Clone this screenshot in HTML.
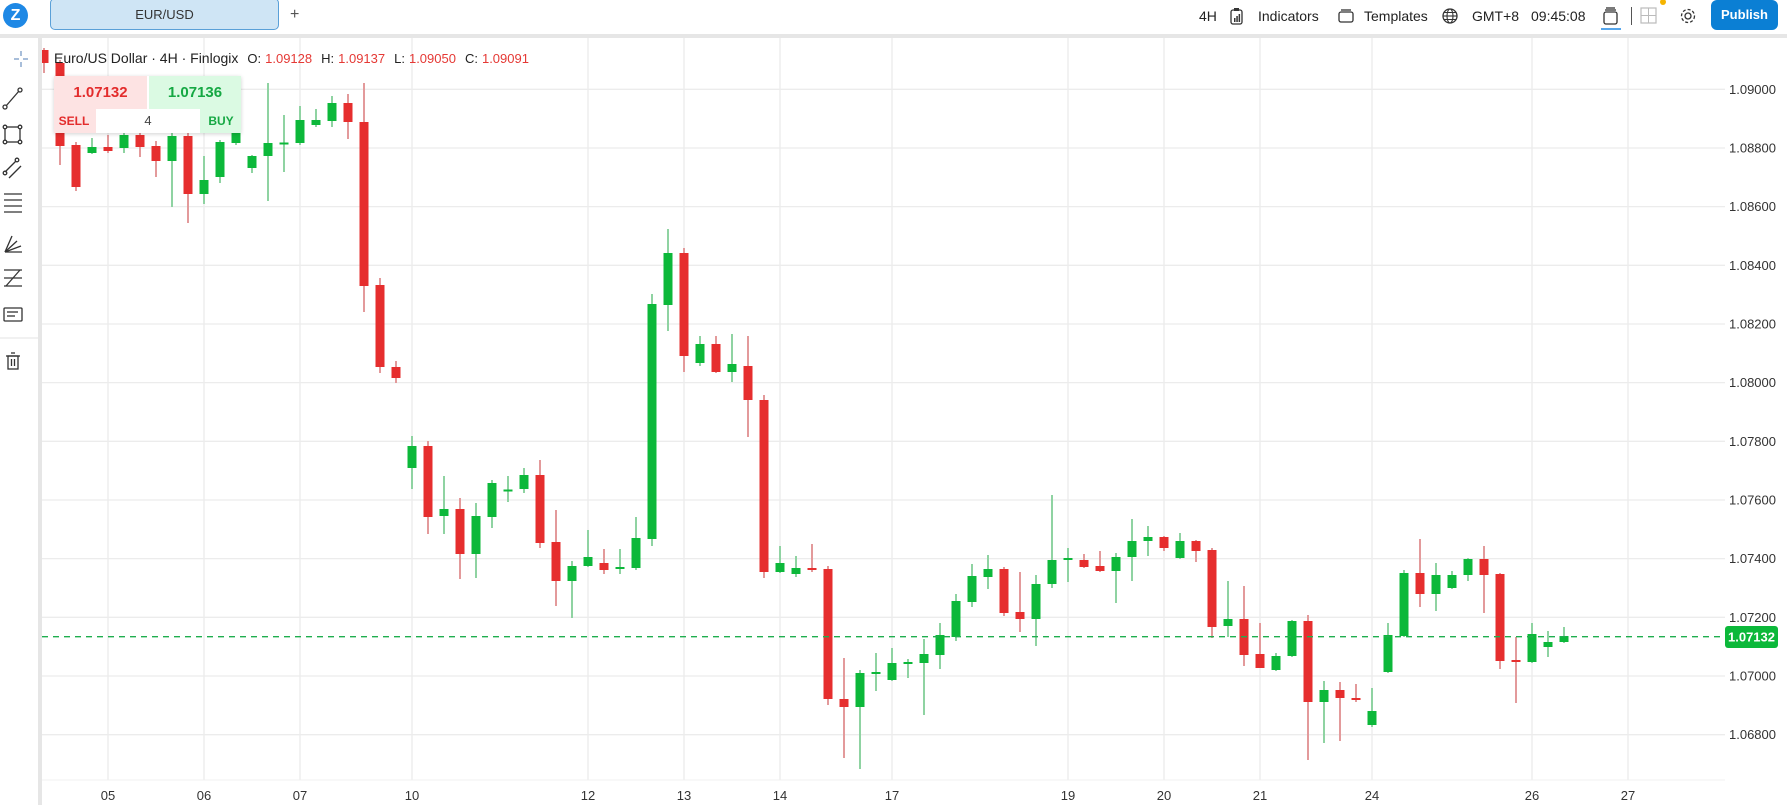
<!DOCTYPE html>
<html><head><meta charset="utf-8">
<style>
*{margin:0;padding:0;box-sizing:border-box}
body{width:1787px;height:805px;overflow:hidden;background:#fff;font-family:"Liberation Sans",Arial,sans-serif;color:#222;position:relative}
.abs{position:absolute}
#top{left:0;top:0;width:1787px;height:34px;background:#fff}
#sep{left:0;top:34px;width:1787px;height:4px;background:#e6e6e6}
#lsep{left:38px;top:34px;width:4px;height:771px;background:#e6e6e6}
.tb{font-size:14px;color:#222;top:8px}
#legend{left:54px;top:50px;font-size:14px;color:#222;white-space:nowrap}
#legend .v{color:#e53935;font-size:13px}
#legend .k{font-size:13px;margin:0 4px 0 9px}
#widget{left:54px;top:76px;width:187px;height:57px;box-shadow:0 1px 4px rgba(0,0,0,.18);background:#fff}
</style></head><body>
<svg class="abs" style="left:0;top:0" width="1787" height="805" id="chart"></svg>

<div id="top" class="abs"></div>
<div id="sep" class="abs"></div>
<div id="lsep" class="abs"></div>
<!-- logo -->
<div class="abs" style="left:3px;top:3px;width:25px;height:25px;border-radius:50%;background:#1e88e5;color:#fff;font-weight:bold;font-size:16px;text-align:center;line-height:25px">Z</div>
<div class="abs" style="left:50px;top:-2px;width:229px;height:32px;background:#cfe5f5;border:1px solid #5aa0d8;border-radius:5px;font-size:13px;text-align:center;line-height:32px;color:#333">EUR/USD</div>
<div class="abs" style="left:290px;top:6px;font-size:16px;color:#555">+</div>
<div class="abs tb" style="left:1199px">4H</div>
<svg class="abs" style="left:1230px;top:7px" width="14" height="18"><rect x="1" y="3" width="11" height="14" rx="2" fill="none" stroke="#333" stroke-width="1.3"/><rect x="4" y="1" width="5" height="3" fill="#333"/><rect x="4" y="11" width="1.5" height="4" fill="#333"/><rect x="6.3" y="9" width="1.5" height="6" fill="#333"/><rect x="8.6" y="7" width="1.5" height="8" fill="#333"/></svg>
<div class="abs tb" style="left:1258px">Indicators</div>
<svg class="abs" style="left:1338px;top:9px" width="16" height="14"><rect x="1" y="3" width="14" height="10" rx="2" fill="none" stroke="#333" stroke-width="1.3"/><line x1="3" y1="1" x2="13" y2="1" stroke="#333" stroke-width="1.3"/></svg>
<div class="abs tb" style="left:1364px">Templates</div>
<svg class="abs" style="left:1442px;top:8px" width="16" height="16"><circle cx="8" cy="8" r="7" fill="none" stroke="#333" stroke-width="1.3"/><ellipse cx="8" cy="8" rx="3" ry="7" fill="none" stroke="#333" stroke-width="1.1"/><line x1="1" y1="8" x2="15" y2="8" stroke="#333" stroke-width="1.1"/><line x1="2" y1="4.5" x2="14" y2="4.5" stroke="#333" stroke-width="1"/><line x1="2" y1="11.5" x2="14" y2="11.5" stroke="#333" stroke-width="1"/></svg>
<div class="abs tb" style="left:1472px">GMT+8</div>
<div class="abs tb" style="left:1531px">09:45:08</div>
<svg class="abs" style="left:1600px;top:5px" width="22" height="25"><rect x="4" y="7" width="13" height="12" rx="2" fill="none" stroke="#333" stroke-width="1.3"/><line x1="6" y1="3" x2="15" y2="3" stroke="#333" stroke-width="1.3"/><line x1="5" y1="5" x2="16" y2="5" stroke="#333" stroke-width="1.3"/><line x1="1" y1="24" x2="21" y2="24" stroke="#1e88e5" stroke-width="1.5"/></svg>
<div class="abs" style="left:1631px;top:7px;width:1px;height:18px;background:#555"></div>
<svg class="abs" style="left:1639px;top:0px" width="30" height="26"><rect x="2" y="8" width="15" height="15" fill="none" stroke="#bbb" stroke-width="1.2"/><line x1="9.5" y1="8" x2="9.5" y2="23" stroke="#bbb"/><line x1="2" y1="15.5" x2="17" y2="15.5" stroke="#bbb"/><circle cx="24" cy="2" r="3" fill="#f5b400"/></svg>
<svg class="abs" style="left:1679px;top:7px" width="18" height="18"><circle cx="9" cy="9" r="3" fill="none" stroke="#333" stroke-width="1.3"/><circle cx="9" cy="9" r="6.5" fill="none" stroke="#333" stroke-width="1.3" stroke-dasharray="3 2"/></svg>
<div class="abs" style="left:1711px;top:0px;width:67px;height:30px;background:#0b7fd4;border-radius:6px;color:#fff;font-size:13px;font-weight:bold;text-align:center;line-height:30px">Publish</div>

<!-- left toolbar icons -->
<svg class="abs" style="left:0;top:40px" width="38" height="340">
<g stroke="#333" stroke-width="1.3" fill="none">
<g stroke="#7a9cc6"><line x1="14" y1="19" x2="19" y2="19"/><line x1="23" y1="19" x2="28" y2="19"/><line x1="21" y1="11" x2="21" y2="16"/><line x1="21" y1="22" x2="21" y2="27"/></g>
<line x1="6" y1="66" x2="19" y2="51"/><circle cx="5" cy="67" r="2"/><circle cx="20" cy="50" r="2"/>
<rect x="5" y="87" width="15" height="15"/><circle cx="5" cy="87" r="1.8" fill="#fff"/><circle cx="20" cy="87" r="1.8" fill="#fff"/><circle cx="5" cy="102" r="1.8" fill="#fff"/><circle cx="20" cy="102" r="1.8" fill="#fff"/>
<line x1="5" y1="132" x2="16" y2="121"/><line x1="9" y1="138" x2="21" y2="126"/><circle cx="5" cy="133" r="1.8"/><circle cx="17" cy="120" r="1.8"/>
<line x1="4" y1="160" x2="22" y2="160"/><line x1="4" y1="166" x2="22" y2="166"/><line x1="4" y1="172" x2="22" y2="172"/><line x1="4" y1="154" x2="22" y2="154"/>
<line x1="5" y1="212" x2="22" y2="212"/><line x1="5" y1="212" x2="12" y2="196"/><line x1="5" y1="212" x2="17" y2="201"/><line x1="5" y1="212" x2="21" y2="206"/>
<line x1="4" y1="230" x2="22" y2="230"/><line x1="4" y1="238" x2="22" y2="238"/><line x1="4" y1="246" x2="22" y2="246"/><line x1="6" y1="246" x2="20" y2="230"/>
<rect x="4" y="268" width="18" height="13" rx="1"/><line x1="7" y1="272" x2="18" y2="272"/><line x1="7" y1="276" x2="15" y2="276"/>
<line x1="6" y1="316" x2="20" y2="316"/><rect x="8" y="316" width="10" height="13"/><line x1="11" y1="313" x2="15" y2="313"/><line x1="11.5" y1="319" x2="11.5" y2="326"/><line x1="14.5" y1="319" x2="14.5" y2="326"/>
</g>
<line x1="0" y1="298" x2="38" y2="298" stroke="#e3e3e3"/>
</svg>

<div id="legend" class="abs">Euro/US Dollar · 4H · Finlogix<span class="k">O:</span><span class="v">1.09128</span><span class="k">H:</span><span class="v">1.09137</span><span class="k">L:</span><span class="v">1.09050</span><span class="k">C:</span><span class="v">1.09091</span></div>

<div id="widget" class="abs">
 <div class="abs" style="left:0;top:0;width:93px;height:57px;background:#fde3e3"></div>
 <div class="abs" style="left:95px;top:0;width:92px;height:57px;background:#dbfae3"></div>
 <div class="abs" style="left:0;top:0;width:93px;height:33px;text-align:center;line-height:33px;font-weight:bold;font-size:15px;color:#e32c2c">1.07132</div>
 <div class="abs" style="left:95px;top:0;width:92px;height:33px;text-align:center;line-height:33px;font-weight:bold;font-size:15px;color:#15a843">1.07136</div>
 <div class="abs" style="left:42px;top:33px;width:104px;height:24px;background:#fff;text-align:center;line-height:24px;font-size:13px;color:#444">4</div>
 <div class="abs" style="left:1px;top:33px;width:38px;height:24px;text-align:center;line-height:24px;font-size:12px;font-weight:bold;color:#e32c2c">SELL</div>
 <div class="abs" style="left:148px;top:33px;width:38px;height:24px;text-align:center;line-height:24px;font-size:12px;font-weight:bold;color:#15a843">BUY</div>
</div>

<script>
var svg=document.getElementById('chart'),h='';
var vx=[108,204,300,412,588,684,780,892,1068,1164,1260,1372,1532,1628];
var vl=['05','06','07','10','12','13','14','17','19','20','21','24','26','27'];
vx.forEach(function(x){h+='<line x1="'+x+'" y1="38" x2="'+x+'" y2="780" stroke="#ececec" stroke-width="1.3"/>';});
var prices=['1.09000','1.08800','1.08600','1.08400','1.08200','1.08000','1.07800','1.07600','1.07400','1.07200','1.07000','1.06800'];
prices.forEach(function(p,i){var y=89.3+i*58.67;h+='<line x1="42" y1="'+y+'" x2="1725" y2="'+y+'" stroke="#ececec" stroke-width="1.3"/>';
h+='<text x="1729" y="'+(y+4.5)+'" font-size="13" fill="#333" font-family="Liberation Sans,sans-serif">'+p+'</text>';});
h+='<line x1="42" y1="780" x2="1725" y2="780" stroke="#f0f0f0"/>';
vx.forEach(function(x,i){h+='<text x="'+x+'" y="800" text-anchor="middle" font-size="13" fill="#333" font-family="Liberation Sans,sans-serif">'+vl[i]+'</text>';});
var d=[[50,63,48,73],[63,146,60,165],[145,187,142,191],[153,147,138,154],[147,151,135,153],[148,135,128,153],[135,147,128,157],[146,161,141,177],[161,136,125,207],[136,194,128,223],
[194,180,156,204],[177,142,140,183],[143,128,125,145],[168,156,155,173],[156,143,83,201],[143.5,142.5,115,172],[143,120,106,145],[125,120,109,127],[121,103,96,127],[103,122,94,139],
[122,286,83,312],[285,367,278,373],[367,378,361,383],[468,446,436,489],[446,517,441,534],[516,509,476,534],[509,554,498,579],[554,516,503,578],[517,483,480,528],[490.5,489.5,476,502],
[489,475,468,493],[475,543,460,548],[542,581,510,606],[581,566,561,618],[566,557,530,567],[563,570,549,574],[569,567,549,574],[568,538,517,570],[539,304,294,546],[305,253,229,331],
[253,356,248,372],[363,344,336,366],[344,372,336,373],[372,364,334,382],[366,400,336,437],[400,572,395,578],[572,563,546,573],[574,568,556,577],[568,569,544,572],[569,699,566,705],
[699,707,658,758],[707,673,670,769],[674,672,653,691],[680,663,648,681],[664,662,659,678],[663,654,639,715],[655,635,623,669],[637,601,594,641],[602,576,564,607],[577,569,555,589],
[569,613,567,616],[612,619,572,632],[619,584,575,646],[584,560,495,588],[560,558,548,582],[560,567,554,568],[566,571,551,572],[571,557,553,603],[557,541,519,581],[541,537,526,556],
[537,548,536,551],[558,541,533,559],[541,551,540,562],[550,627,548,638],[626,619,581,637],[619,655,586,666],[654,668,623,668],[670,656,653,671],[656,621,620,657],[621,702,615,760],
[702,690,681,743],[690,698,682,741],[698,700,684,702],[725,711,688,727],[672,635,623,673],[636,573,570,637],[573,594,539,607],[594,575,563,611],[588,575,571,589],[575,559,558,581],
[559,575,546,613],[574,661,573,669],[660,661,637,703],[662,634,623,663],[647,642,631,657],[642,636,627,643]];
d.forEach(function(c,k){var x=44+16*k,g=c[1]<c[0];var top=Math.min(c[0],c[1]),bh=Math.max(2,Math.abs(c[0]-c[1]));
var wc=g?'#8fd3a2':'#e39a9b',bc=g?'#0cb83a':'#e62e2e';
h+='<rect x="'+(x-1)+'" y="'+c[2]+'" width="2" height="'+(c[3]-c[2])+'" fill="'+wc+'"/>';
h+='<rect x="'+(x-4.5)+'" y="'+top+'" width="9" height="'+bh+'" fill="'+bc+'"/>';});
h+='<line x1="42" y1="636.7" x2="1725" y2="636.7" stroke="#1fae4e" stroke-width="1.3" stroke-dasharray="6 5"/>';
h+='<rect x="1725" y="626" width="53" height="22" rx="3" fill="#0cb83a"/><text x="1751.5" y="641.5" text-anchor="middle" font-size="13" font-weight="bold" fill="#fff" font-family="Liberation Sans,sans-serif">1.07132</text>';
svg.innerHTML=h;
</script>
</body></html>
